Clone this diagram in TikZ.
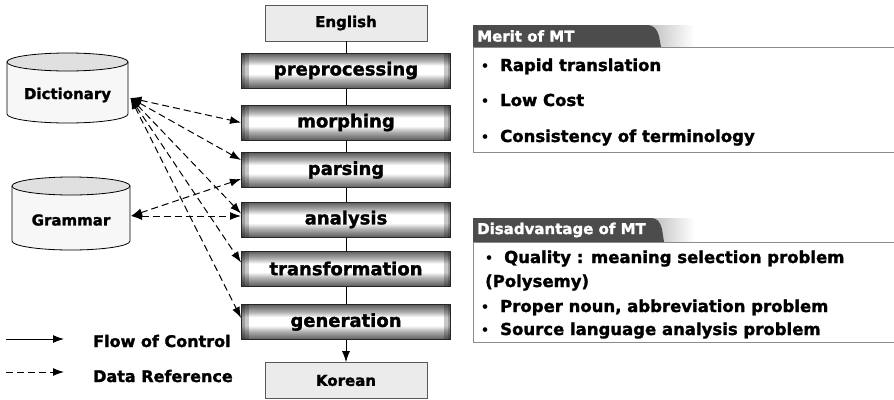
\documentclass[tikz,border=0pt]{standalone}
\usepackage{fontspec}
\setmainfont{DejaVu Sans}[BoldFeatures={FakeBold=1.6}]
\usetikzlibrary{arrows.meta,calc,backgrounds}

\definecolor{stageedge}{gray}{0.36}
\definecolor{stagemid}{gray}{0.70}
\definecolor{tabdark}{gray}{0.30}
\definecolor{panelline}{gray}{0.55}
\definecolor{boxfill}{gray}{0.92}
\definecolor{cylbody}{gray}{0.97}
\definecolor{cyltop}{gray}{0.88}

% vertical bar shading: dark rim at top and bottom, white band in the middle
\pgfdeclareverticalshading{stagebar}{100bp}{color(0bp)=(stageedge); color(25bp)=(stageedge); color(37bp)=(stagemid); color(45bp)=(white); color(57bp)=(white); color(64bp)=(stagemid); color(75bp)=(stageedge); color(100bp)=(stageedge)}

\newcommand\itembul{\makebox[19pt][l]{\fontsize{12}{12}\selectfont\raisebox{1pt}{•}}}

\begin{document}
\begin{tikzpicture}[x=1pt,y=-1pt,
  stagebox/.style={draw=black!85,line width=1pt,shading=stagebar,minimum width=209pt,minimum height=35pt,inner sep=0pt,font=\fontsize{18}{18}\selectfont\bfseries,
    path picture={
      \fill[black,opacity=0.22] (path picture bounding box.north west) rectangle ([xshift=7pt]path picture bounding box.south west);
      \fill[black,opacity=0.22] (path picture bounding box.north east) rectangle ([xshift=-7pt]path picture bounding box.south east);
      \fill[black,opacity=0.2] (path picture bounding box.north west) rectangle ([xshift=3pt]path picture bounding box.south west);
      \fill[black,opacity=0.2] (path picture bounding box.north east) rectangle ([xshift=-3pt]path picture bounding box.south east);
    }},
  langbox/.style={draw=gray!70!black,line width=0.6pt,fill=boxfill,minimum width=162pt,minimum height=36pt,inner sep=0pt,font=\fontsize{15}{15}\selectfont\bfseries},
  dbtext/.style={inner sep=0pt,font=\fontsize{15}{15}\selectfont\bfseries},
  cylside/.style={draw=black,line width=0.8pt,fill=cylbody},
  cylcap/.style={draw=black,line width=0.8pt,fill=cyltop},
  flow/.style={draw=black,line width=1pt},
  flowtip/.style={flow,-{Latex[length=11pt,width=8pt]}},
  dataref/.style={draw=black,line width=1pt,dash pattern=on 7pt off 4pt,{Latex[length=11pt,width=8pt]}-{Latex[length=11pt,width=8pt]}},
  datatip/.style={draw=black,line width=1pt,dash pattern=on 7pt off 4pt,-{Latex[length=11pt,width=8pt]}},
  legendtext/.style={anchor=base west,inner sep=0pt,font=\fontsize{16}{16}\selectfont\bfseries},
  panel/.style={draw=panelline,line width=0.7pt},
  tabtext/.style={anchor=west,inner sep=0pt,text=white,font=\fontsize{15}{15}\selectfont\bfseries},
  listitem/.style={anchor=base west,inner sep=0pt,font=\fontsize{16.5}{16.5}\selectfont\bfseries},
  holder/.style={anchor=north west,inner sep=0pt,minimum width=421pt}
]
\useasboundingbox (0,0) rectangle (894,399);

% ---- translation pipeline ----
\node[langbox] (en) at (346,23) {English};
\node[stagebox] (pre) at (346,70.5) {preprocessing};
\node[stagebox] (mor) at (346,122.5) {morphing};
\node[stagebox] (par) at (346,170) {parsing};
\node[stagebox] (ana) at (346,219.5) {analysis};
\node[stagebox] (tra) at (346,268.5) {transformation};
\node[stagebox] (gen) at (346,322) {generation};
\node[langbox] (ko) at (346,380.5) {Korean};

\draw[flow] (en.south) -- (pre.north);
\draw[flow] (pre.south) -- (mor.north);
\draw[flow] (mor.south) -- (par.north);
\draw[flow] (par.south) -- (ana.north);
\draw[flow] (ana.south) -- (tra.north);
\draw[flow] (tra.south) -- (gen.north);
\draw[flowtip] (gen.south) -- (ko.north);

% ---- knowledge bases ----
\node[dbtext] (dict) at (67.5,95) {Dictionary};
\node[dbtext] (gram) at (71,220) {Grammar};

\begin{pgfonlayer}{background}
  \begin{scope}[shift={(dict.center)}]
    \path[cylside] (-60.5,-33) -- (-60.5,19) arc[start angle=180,end angle=0,x radius=60.5,y radius=9] -- (60.5,-33) -- cycle;
    \path[cylcap] (0,-33) ellipse[x radius=60.5,y radius=9];
  \end{scope}
  \begin{scope}[shift={(gram.center)}]
    \path[cylside] (-59,-34) -- (-59,21) arc[start angle=180,end angle=0,x radius=59,y radius=9] -- (59,-34) -- cycle;
    \path[cylcap] (0,-34) ellipse[x radius=59,y radius=9];
  \end{scope}
\end{pgfonlayer}

\coordinate (dictport) at ($(dict.center)+(63,3)$);
\coordinate (gramport) at ($(gram.center)+(60,-4)$);

\draw[dataref] (dictport) -- (mor.west);
\draw[dataref] (dictport) -- ($(par.west)+(0,-10)$);
\draw[dataref] (dictport) -- ($(ana.west)+(0,-6)$);
\draw[dataref] (dictport) -- ($(tra.west)+(0,-6)$);
\draw[dataref] (dictport) -- ($(gen.west)+(0,-4)$);
\draw[dataref] (gramport) -- ($(par.west)+(0,9)$);
\draw[dataref] (gramport) -- (gramport -| ana.west);

% ---- legend ----
\coordinate (lega) at (6,339);
\coordinate (legb) at (64,339);
\coordinate (legc) at (6,372);
\coordinate (legd) at (64,372);
\draw[flowtip] (lega) -- (legb);
\draw[datatip] (legc) -- (legd);
\node[legendtext] (legflow) at (93,347) {Flow of Control};
\node[legendtext] (legdata) at (93,382) {Data Reference};

% ---- merit panel ----
\node[holder,minimum height=105pt] (meritbox) at (473,47) {};
\begin{pgfonlayer}{background}
  \shade[left color=gray!60,right color=white] (640,25) rectangle (694,47);
  \fill[tabdark] (473,47) |- (646,25) .. controls (654,25) and (657,29) .. (659,36) -- (661,47) -- cycle;
\end{pgfonlayer}
\draw[panel] (meritbox.north east) -- (meritbox.north west) -- (meritbox.south west) -- (meritbox.south east);
\node[tabtext] (merittab) at (477,36) {Merit of MT};
\node[listitem] (m1) at (481,71) {\itembul Rapid translation};
\node[listitem] (m2) at (481,106) {\itembul Low Cost};
\node[listitem] (m3) at (481,142) {\itembul Consistency of terminology};

% ---- disadvantage panel ----
\node[holder,minimum height=100pt] (disbox) at (473,242) {};
\begin{pgfonlayer}{background}
  \shade[left color=gray!60,right color=white] (645,218) rectangle (694,242);
  \fill[tabdark] (473,242) |- (650,218) .. controls (658,218) and (660,222) .. (662,229) -- (664,242) -- cycle;
\end{pgfonlayer}
\draw[panel] (disbox.north east) -- (disbox.north west) -- (disbox.south west) -- (disbox.south east);
\node[tabtext] (distab) at (477,230) {Disadvantage of MT};
\node[listitem] (d1) at (485,263) {\itembul Quality : meaning selection problem};
\node[listitem] (d1b) at (485,287) {(Polysemy)};
\node[listitem] (d2) at (481,312) {\itembul Proper noun, abbreviation problem};
\node[listitem] (d3) at (481,335) {\itembul Source language analysis problem};
\end{tikzpicture}
\end{document}
